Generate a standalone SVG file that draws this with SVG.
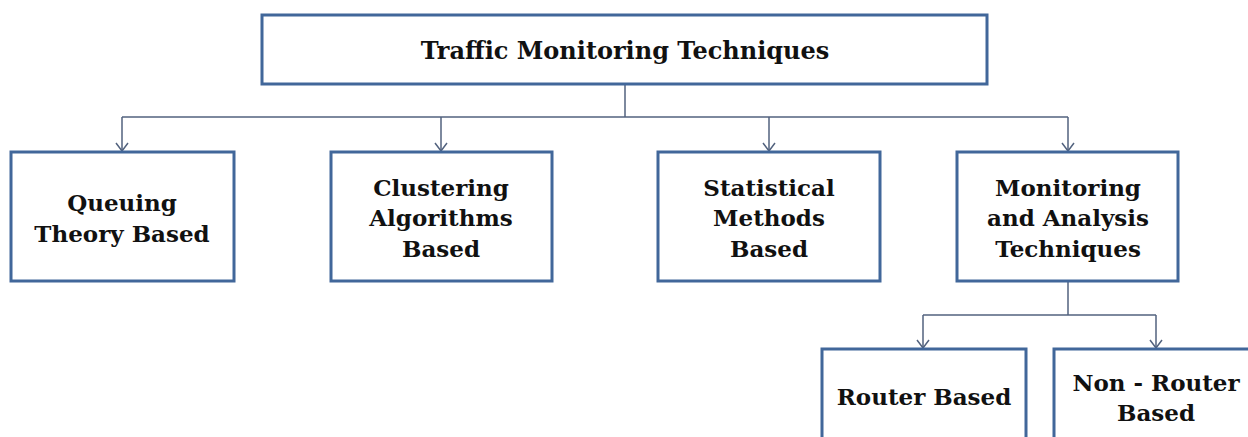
<svg xmlns="http://www.w3.org/2000/svg" width="1248" height="437" viewBox="0 0 1248 437">
<style>
.box{fill:#fff;stroke:#41679a;stroke-width:3}
.t{font-family:"DejaVu Serif","Liberation Serif",serif;font-weight:bold;font-size:23px;fill:#111;text-anchor:middle}
.tt{font-size:24px}
.c{fill:none;stroke:#52627e;stroke-width:1.5}
</style>
<defs>
<marker id="a" markerWidth="14" markerHeight="14" refX="12" refY="7" orient="auto" markerUnits="userSpaceOnUse" viewBox="0 0 14 14">
<path d="M4,1 L12,7 L4,13" fill="none" stroke="#52627e" stroke-width="1.5"/>
</marker>
</defs>
<rect width="1248" height="437" fill="#fff"/>
<g id="connectors">
<path class="c" d="M625,84 V117"/>
<path class="c" d="M122,117 H1068"/>
<path class="c" d="M122,117 V151" marker-end="url(#a)"/>
<path class="c" d="M441,117 V151" marker-end="url(#a)"/>
<path class="c" d="M769,117 V151" marker-end="url(#a)"/>
<path class="c" d="M1068,117 V151" marker-end="url(#a)"/>
<path class="c" d="M1068,281 V315"/>
<path class="c" d="M923,315 H1156"/>
<path class="c" d="M923,315 V348" marker-end="url(#a)"/>
<path class="c" d="M1156,315 V348" marker-end="url(#a)"/>
</g>
<g id="root">
<rect class="box" x="262" y="15" width="725" height="69"/>
<text class="t tt" x="625" y="59">Traffic Monitoring Techniques</text>
</g>
<g id="queuing">
<rect class="box" x="11" y="152" width="223" height="129"/>
<text class="t" x="122" y="211">Queuing</text>
<text class="t" x="122" y="242">Theory Based</text>
</g>
<g id="clustering">
<rect class="box" x="331" y="152" width="221" height="129"/>
<text class="t" x="441" y="196">Clustering</text>
<text class="t" x="441" y="226">Algorithms</text>
<text class="t" x="441" y="257">Based</text>
</g>
<g id="statistical">
<rect class="box" x="658" y="152" width="222" height="129"/>
<text class="t" x="769" y="196">Statistical</text>
<text class="t" x="769" y="226">Methods</text>
<text class="t" x="769" y="257">Based</text>
</g>
<g id="monitoring">
<rect class="box" x="957" y="152" width="221" height="129"/>
<text class="t" x="1068" y="196">Monitoring</text>
<text class="t" x="1068" y="226">and Analysis</text>
<text class="t" x="1068" y="257">Techniques</text>
</g>
<g id="router">
<rect class="box" x="822" y="349" width="204" height="100"/>
<text class="t" x="924" y="405">Router Based</text>
</g>
<g id="nonrouter">
<rect class="box" x="1054" y="349" width="210" height="100"/>
<text class="t" x="1156" y="391">Non - Router</text>
<text class="t" x="1156" y="421">Based</text>
</g>
</svg>
